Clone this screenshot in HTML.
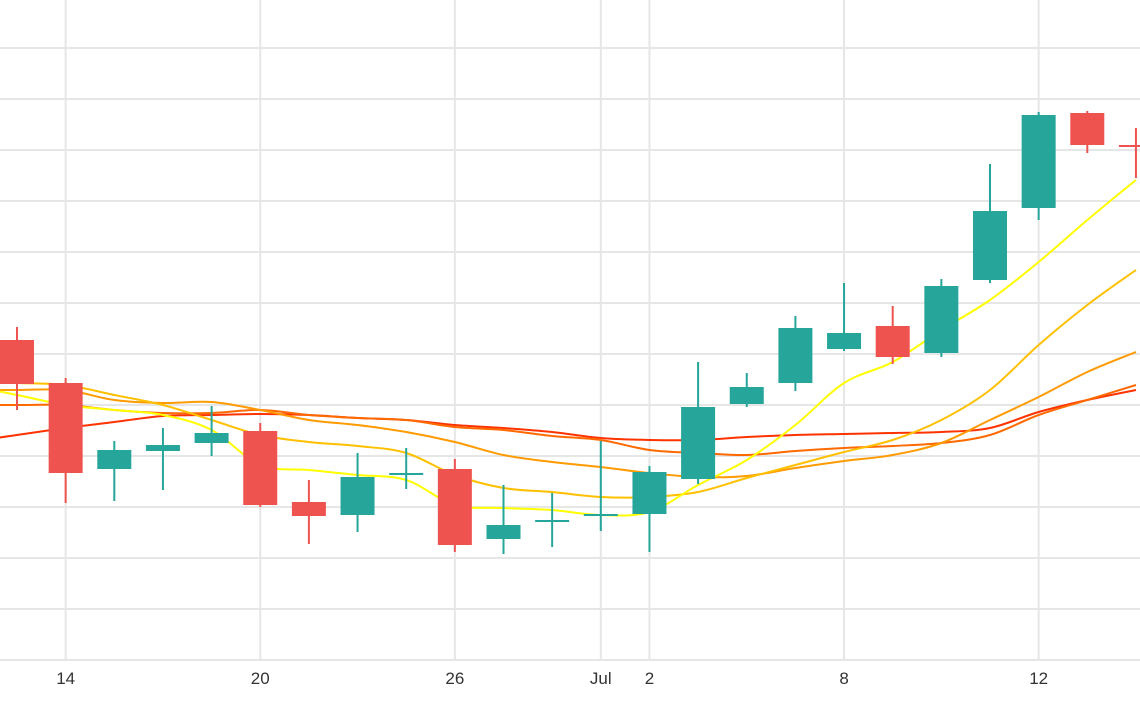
<!DOCTYPE html>
<html><head><meta charset="utf-8"><style>
html,body{margin:0;padding:0;background:#fff;}
svg{display:block;font-family:"Liberation Sans",sans-serif;}
</style></head><body>
<svg id="chart" width="1140" height="710" viewBox="0 0 1140 710" xmlns="http://www.w3.org/2000/svg">
<g id="grid"></g>
<g id="mas"></g>
<g id="candles"></g>
<g id="xaxis"></g>
</svg>
<script>
const opens  = [36.0,31.7,23.1,24.9,25.7,26.9,19.8,18.5,22.6,23.1,16.1,17.8,18.4,18.6,22.1,29.6,31.7,35.1,37.4,34.7,42.0,49.2,58.7,55.5];
const highs  = [37.3,32.2,25.9,27.2,29.4,27.7,22.0,24.7,25.2,24.1,21.5,20.7,25.9,23.4,33.8,32.7,38.4,41.7,39.4,42.1,53.6,58.8,58.9,57.2];
const lows   = [29.0,19.7,19.9,21.0,24.4,19.3,15.6,16.8,21.1,14.8,14.6,15.3,16.9,14.8,21.6,29.3,30.9,34.9,33.6,34.3,41.7,48.0,54.7,52.2];
const closes = [31.6,22.7,25.0,25.5,26.7,19.5,18.4,22.3,22.7,15.5,17.5,18.0,18.6,22.8,29.3,31.3,37.2,36.7,34.3,41.4,48.9,58.5,55.5,55.4];
const ma1 = [30.5,29.5,29.0,28.5,27.0,23.5,23.0,22.5,22.0,19.5,19.2,19.0,18.5,18.8,21.5,24.0,27.5,31.7,33.8,37.0,40.0,43.8,48.0,52.0];
const ma2 = [31.7,31.5,30.5,29.5,28.0,26.5,25.8,25.4,24.7,22.5,21.2,20.8,20.3,20.3,20.8,22.2,23.5,24.8,26.0,28.0,31.0,35.5,39.5,43.0];
const ma3 = [31.0,31.0,30.0,29.7,29.8,29.0,28.0,27.5,26.8,25.8,24.5,23.8,23.3,22.7,22.3,22.4,23.2,23.9,24.5,25.7,28.0,30.3,32.8,34.8];
const ma4 = [29.5,29.5,29.0,28.7,28.7,29.0,28.5,28.2,28.0,27.3,27.0,26.4,26.0,25.0,24.7,24.5,24.9,25.2,25.4,25.7,26.5,28.5,30.0,31.5];
const ma5 = [26.5,27.2,27.8,28.4,28.5,28.6,28.5,28.2,28.0,27.5,27.2,26.8,26.2,26.0,26.0,26.3,26.5,26.6,26.7,26.8,27.2,28.8,30.0,31.0];
const yTicks = [4.0,9.1,14.2,19.3,24.4,29.5,34.6,39.7,44.8,49.9,55.0,60.1,65.2];
const xTickIdx = [1,5,9,12,13,17,21];
const xTickLabels = ["14","20","26","Jul","2","8","12"];

const NS="http://www.w3.org/2000/svg";
const X = i => 17 + i*48.65;
const Y = v => 700 - v*10;
function mk(tag, attrs, parent){const e=document.createElementNS(NS,tag);for(const k in attrs)e.setAttribute(k,attrs[k]);parent.appendChild(e);return e;}
const grid=document.getElementById('grid'), mas=document.getElementById('mas'), cg=document.getElementById('candles'), xa=document.getElementById('xaxis');

yTicks.forEach(v=>{const l=mk('line',{x1:0,x2:1140,y1:Y(v),y2:Y(v),stroke:'#e6e6e6','stroke-width':2},grid);

});
xTickIdx.forEach((i,k)=>{const l=mk('line',{x1:X(i),x2:X(i),y1:0,y2:660,stroke:'#e6e6e6','stroke-width':2},grid);


const t=mk('text',{x:X(i),y:684,'text-anchor':'middle','font-size':17,fill:'#333'},xa);t.textContent=xTickLabels[k];

});

function smooth(arr){let pts=arr.map((v,i)=>[X(i),Y(v)]);
// extend to left edge
const d0=[pts[0][0]-(pts[1][0]-pts[0][0]),pts[0][1]-(pts[1][1]-pts[0][1])];
let p=[d0,...pts];let s=`M${p[0][0]},${p[0][1]}`;
for(let i=0;i<p.length-1;i++){const a=p[i-1]||p[i],b=p[i],c=p[i+1],d=p[i+2]||c;
s+=` C${b[0]+(c[0]-a[0])/6},${b[1]+(c[1]-a[1])/6} ${c[0]-(d[0]-b[0])/6},${c[1]-(d[1]-b[1])/6} ${c[0]},${c[1]}`;}return s;}
[[ma5,'#ff3300'],[ma4,'#ff6a00'],[ma3,'#ff9a00'],[ma2,'#ffc000'],[ma1,'#ffff00']].forEach(([a,c],k)=>{
const p=mk('path',{d:smooth(a),fill:'none',stroke:c,'stroke-width':2},mas);

});

opens.forEach((o,i)=>{const c=closes[i];const up=c>=o;const col=up?'#26a69a':'#ef5350';
const g=mk('g',{},cg);


mk('line',{x1:X(i),x2:X(i),y1:Y(highs[i]),y2:Y(lows[i]),stroke:col,'stroke-width':2},g);
const top=Y(Math.max(o,c)),bot=Y(Math.min(o,c));
mk('rect',{x:X(i)-17,y:top,width:34,height:Math.max(2,bot-top),fill:col},g);});
</script>
</body></html>
